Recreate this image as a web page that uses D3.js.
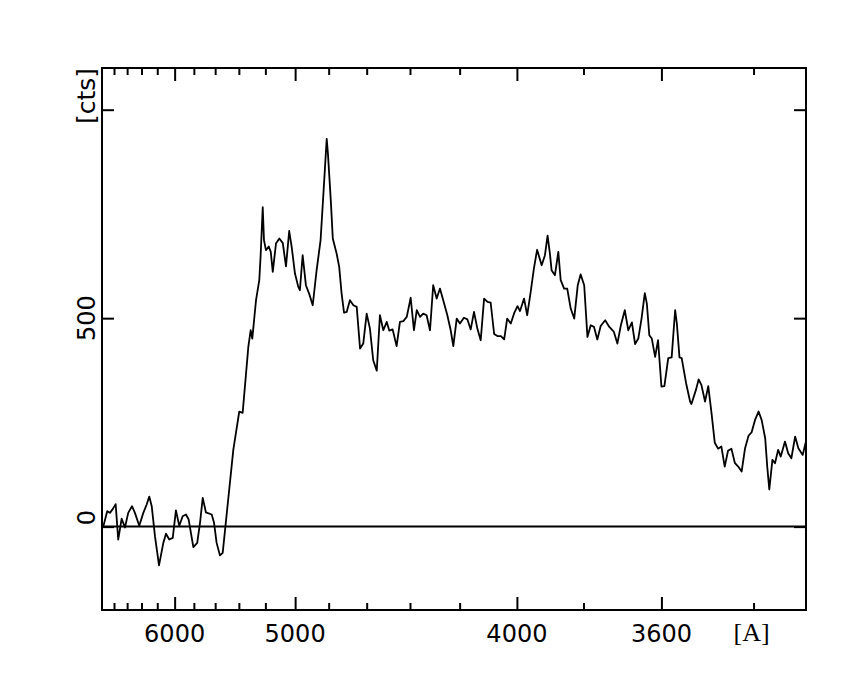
<!DOCTYPE html>
<html>
<head>
<meta charset="utf-8">
<script src="https://cdn.jsdelivr.net/npm/d3@7"></script>
<style>
body { margin: 0; background: #fff; }
</style>
</head>
<body>
<svg id="chart" width="850" height="680"></svg>
<script>
// wavelength [A] and counts
const wave = [6978,6911,6866,6821,6774,6734,6681,6632,6584,6530,
    6489,6430,6376,6332,6299,6268,6228,6179,6128,6097,
    6060,6021,5986,5950,5914,5880,5852,5805,5767,5740,
    5714,5684,5631,5610,5587,5558,5534,5445,5397,5370,
    5326,5308,5296,5268,5244,5234,5219,5210,5196,5176,
    5162,5148,5126,5103,5080,5059,5038,5022,5001,4980,
    4970,4953,4933,4912,4892,4869,4846,4831,4811,4804,
    4788,4777,4756,4742,4729,4716,4702,4685,4667,4650,
    4633,4617,4600,4584,4568,4551,4536,4520,4504,4492,
    4477,4459,4444,4429,4414,4397,4383,4371,4357,4344,
    4330,4316,4303,4289,4276,4263,4247,4234,4224,4211,
    4199,4184,4171,4159,4147,4135,4123,4111,4099,4088,
    4076,4065,4053,4042,4032,4020,4009,3998,3990,3977,
    3967,3956,3946,3936,3922,3912,3904,3897,3892,3882,
    3872,3865,3855,3846,3836,3826,3816,3808,3798,3789,
    3780,3771,3762,3753,3741,3730,3718,3709,3700,3690,
    3681,3672,3664,3656,3648,3640,3635,3629,3623,3615,
    3608,3600,3593,3584,3576,3568,3564,3558,3553,3543,
    3534,3531,3521,3515,3509,3501,3494,3487,3480,3473,
    3466,3459,3452,3445,3438,3431,3424,3417,3410,3404,
    3397,3390,3384,3377,3373,3369,3363,3358,3352,3347,
    3339,3333,3327,3320,3314,3306,3300]

const counts = [0,37,33,42,54,-31,19,-2,33,49,
    33,2,33,53,72,49,-23,-93,-39,-17,
    -31,-27,39,2,25,29,17,-49,-39,9,
    69,34,29,9,-39,-69,-63,184,276,273,
    431,471,451,543,591,651,766,687,663,672,
    659,611,679,691,680,624,709,671,607,575,
    567,651,579,557,531,615,687,790,930,894,
    782,691,655,623,559,513,515,543,531,527,
    427,439,511,475,399,374,507,471,491,470,
    473,433,491,493,503,549,471,519,503,511,
    507,471,579,547,571,543,507,471,433,499,
    487,501,497,473,515,475,447,547,539,537,
    462,457,457,449,499,487,512,529,517,547,
    507,563,619,664,627,651,698,655,615,603,
    659,591,571,571,523,499,579,605,579,455,
    483,479,449,481,495,479,467,439,483,519,
    471,490,438,451,499,560,535,459,451,407,
    447,336,337,404,406,519,487,406,404,344,
    300,294,328,353,340,300,337,272,201,187,
    192,144,182,187,153,144,132,188,218,226,
    256,276,256,212,144,89,160,152,184,168,
    204,176,164,216,188,172,205]

const majorTicks = [6000, 5000, 4000, 3600]
const minorTicks = [6800, 6600, 6400, 6200, 5800, 5600, 5400, 5200, 4800, 4600, 4400, 4200, 3800, 3400]
const yTicks = [0, 500, 1000]
const yLabels = [0, 500]

const margin = {left: 102, right: 44, top: 68, bottom: 70}
const width = 850 - margin.left - margin.right
const height = 680 - margin.top - margin.bottom
const labelFont = 'DejaVu Sans, sans-serif'

const svg = d3.select('#chart')
const plot = svg.append('g').attr('transform', `translate(${margin.left},${margin.top})`)

// x is linear in 1/lambda^2
const x = d3.scalePow().exponent(-2).domain([7000, 3300]).range([0, width])
const y = d3.scaleLinear().domain([-200, 1100]).range([height, 0])

const data = wave.map((w, i) => ({w: w, c: counts[i]}))

plot.append('clipPath').attr('id', 'clip')
    .append('rect').attr('width', width).attr('height', height)

// ticks on all four sides, pointing inwards
function ticks(axis, values, size) {
    return axis.tickValues(values).tickSize(size).tickFormat('')
}
plot.append('g').attr('transform', `translate(0,${height})`)
    .call(ticks(d3.axisBottom(x), minorTicks, -7))
plot.append('g').attr('transform', `translate(0,${height})`)
    .call(ticks(d3.axisBottom(x), majorTicks, -13))
plot.append('g')
    .call(ticks(d3.axisTop(x), minorTicks, -7))
plot.append('g')
    .call(ticks(d3.axisTop(x), majorTicks, -13))
plot.append('g')
    .call(ticks(d3.axisLeft(y), yTicks, -12))
plot.append('g').attr('transform', `translate(${width},0)`)
    .call(ticks(d3.axisRight(y), yTicks, -12))
plot.selectAll('.domain').remove()
plot.selectAll('.tick line').attr('stroke', '#000').attr('stroke-width', 2)

// zero line
plot.append('line')
    .attr('x1', 0).attr('x2', width)
    .attr('y1', y(0)).attr('y2', y(0))
    .attr('stroke', '#000').attr('stroke-width', 2)

const line = d3.line().x(d => x(d.w)).y(d => y(d.c))
plot.append('path')
    .datum(data)
    .attr('clip-path', 'url(#clip)')
    .attr('fill', 'none')
    .attr('stroke', '#000')
    .attr('stroke-width', 1.8)
    .attr('stroke-linejoin', 'round')
    .attr('d', line)

plot.append('rect')
    .attr('width', width).attr('height', height)
    .attr('fill', 'none').attr('stroke', '#000').attr('stroke-width', 2)

// tick labels
plot.selectAll('text.xlab').data(majorTicks).join('text')
    .attr('class', 'xlab')
    .attr('x', d => x(d)).attr('y', height + 32)
    .attr('text-anchor', 'middle')
    .attr('font-family', labelFont).attr('font-size', 24)
    .text(d => d)

// the 0 label sits a little above its tick
plot.selectAll('text.ylab').data(yLabels).join('text')
    .attr('class', 'ylab')
    .attr('transform', d => `translate(-7,${d === 0 ? y(d) - 9 : y(d)}) rotate(-90)`)
    .attr('text-anchor', 'middle')
    .attr('font-family', labelFont).attr('font-size', 24)
    .text(d => d)

plot.append('text')
    .attr('transform', `translate(-7,0) rotate(-90)`)
    .attr('text-anchor', 'end')
    .attr('font-family', labelFont).attr('font-size', 25)
    .text('[cts]')

plot.append('text')
    .attr('x', x(3400) - 2).attr('y', height + 31)
    .attr('text-anchor', 'middle')
    .attr('font-family', 'Liberation Serif, serif').attr('font-size', 26)
    .text('[A]')
</script>
</body>
</html>
